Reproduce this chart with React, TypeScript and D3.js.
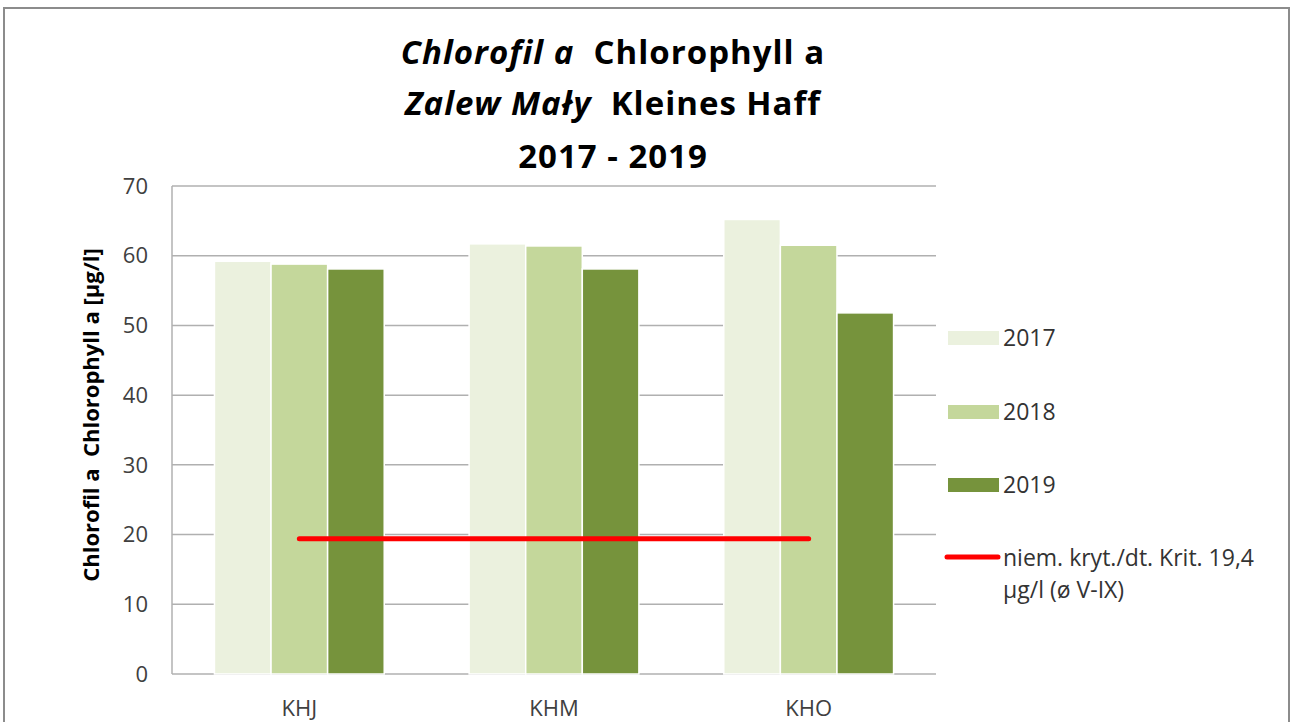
import React, { useEffect, useRef } from "react";
import * as d3 from "d3";

// data
const stations = ["KHJ", "KHM", "KHO"];
const years = ["2017", "2018", "2019"];
const values2017 = [59.2, 61.7, 65.2];
const values2018 = [58.8, 61.4, 61.5];
const values2019 = [58.1, 58.1, 51.8];
const criterion = [19.4, 19.4, 19.4];
const yTicks = [0, 10, 20, 30, 40, 50, 60, 70];
const yearColors = ["#ebf1de", "#c4d79b", "#76933c"];
const criterionLabel = ["niem. kryt./dt. Krit. 19,4", "µg/l (ø V-IX)"];

const FONT = "'Open Sans', Lato, sans-serif";

const App = () => {
  const chartRef = useRef<SVGSVGElement>(null);

  useEffect(() => {
    const svg = d3.select(chartRef.current);
    svg.selectAll("*").remove();

    const width = 1294;
    const height = 722;
    const left = 172;
    const right = 936;
    const top = 186;
    const bottom = 674;

    // outer chart frame
    svg
      .append("rect")
      .attr("x", 4)
      .attr("y", 8)
      .attr("width", 1285)
      .attr("height", height + 10)
      .attr("fill", "#fff")
      .attr("stroke", "#8c8c8c")
      .attr("stroke-width", 2);

    const x0 = d3
      .scaleBand()
      .domain(stations)
      .range([left, right])
      .paddingInner(1 / 3)
      .paddingOuter(1 / 6);

    const x1 = d3.scaleBand().domain(years).range([0, x0.bandwidth()]);

    const y = d3.scaleLinear().domain([0, 70]).range([bottom, top]);

    // gridlines
    svg
      .append("g")
      .selectAll("line")
      .data(yTicks)
      .enter()
      .append("line")
      .attr("x1", left)
      .attr("x2", right)
      .attr("y1", (d) => y(d))
      .attr("y2", (d) => y(d))
      .attr("stroke", "#b0b0b0")
      .attr("stroke-width", 1.5);

    svg
      .append("line")
      .attr("x1", left)
      .attr("x2", left)
      .attr("y1", top)
      .attr("y2", bottom)
      .attr("stroke", "#b0b0b0")
      .attr("stroke-width", 1.5);

    // tick labels
    svg
      .append("g")
      .selectAll("text")
      .data(yTicks)
      .enter()
      .append("text")
      .attr("x", 148)
      .attr("y", (d) => y(d))
      .attr("dy", "0.35em")
      .attr("text-anchor", "end")
      .attr("font-family", FONT)
      .attr("font-size", 22)
      .attr("fill", "#404040")
      .text((d) => d);

    svg
      .append("g")
      .selectAll("text")
      .data(stations)
      .enter()
      .append("text")
      .attr("x", (d) => x0(d)! + x0.bandwidth() / 2)
      .attr("y", 708)
      .attr("dy", "0.35em")
      .attr("text-anchor", "middle")
      .attr("font-family", FONT)
      .attr("font-size", 22)
      .attr("fill", "#404040")
      .text((d) => d);

    // bars
    const series = [values2017, values2018, values2019];
    const rows = stations.flatMap((s, i) =>
      years.map((yr, j) => ({ station: s, year: yr, value: series[j][i], color: yearColors[j] }))
    );

    svg
      .append("g")
      .selectAll("rect")
      .data(rows)
      .enter()
      .append("rect")
      .attr("x", (d) => x0(d.station)! + x1(d.year)!)
      .attr("y", (d) => y(d.value))
      .attr("width", x1.bandwidth())
      .attr("height", (d) => y(0) - y(d.value))
      .attr("fill", (d) => d.color)
      .attr("stroke", "#fff")
      .attr("stroke-width", 1.5);

    // criterion line
    const line = d3
      .line<number>()
      .x((_, i) => x0(stations[i])! + x0.bandwidth() / 2)
      .y((d) => y(d));

    svg
      .append("path")
      .attr("d", line(criterion))
      .attr("fill", "none")
      .attr("stroke", "#ff0000")
      .attr("stroke-width", 5)
      .attr("stroke-linecap", "round");

    // title
    const title = svg
      .append("text")
      .attr("text-anchor", "middle")
      .attr("font-family", FONT)
      .attr("font-weight", "bold")
      .attr("font-size", 33)
      .attr("letter-spacing", 1)
      .attr("fill", "#000")
      .style("white-space", "pre");

    const l1 = title.append("tspan").attr("x", 613).attr("y", 64);
    l1.append("tspan").attr("font-style", "italic").text("Chlorofil a");
    l1.append("tspan").text("  Chlorophyll a");
    const l2 = title.append("tspan").attr("x", 613).attr("y", 115);
    l2.append("tspan").attr("font-style", "italic").text("Zalew Mały");
    l2.append("tspan").text("  Kleines Haff");
    title.append("tspan").attr("x", 613).attr("y", 168).text("2017 - 2019");

    // y axis title
    svg
      .append("text")
      .attr("transform", `translate(99,415) rotate(-90)`)
      .attr("text-anchor", "middle")
      .attr("font-family", FONT)
      .attr("font-weight", "bold")
      .attr("font-size", 22)
      .attr("fill", "#000")
      .style("white-space", "pre")
      .text("Chlorofil a  Chlorophyll a [µg/l]");

    // legend
    const legendY = [338, 412, 485];
    years.forEach((yr, j) => {
      svg
        .append("rect")
        .attr("x", 948)
        .attr("y", legendY[j] - 7)
        .attr("width", 51)
        .attr("height", 14)
        .attr("fill", yearColors[j]);
      svg
        .append("text")
        .attr("x", 1003)
        .attr("y", legendY[j])
        .attr("dy", "0.35em")
        .attr("font-family", FONT)
        .attr("font-size", 23)
        .attr("fill", "#333")
        .text(yr);
    });

    svg
      .append("line")
      .attr("x1", 947)
      .attr("x2", 998)
      .attr("y1", 557)
      .attr("y2", 557)
      .attr("stroke", "#ff0000")
      .attr("stroke-width", 5)
      .attr("stroke-linecap", "round");

    svg
      .append("g")
      .selectAll("text")
      .data(criterionLabel)
      .enter()
      .append("text")
      .attr("x", 1003)
      .attr("y", (_, i) => 558 + i * 32)
      .attr("dy", "0.35em")
      .attr("font-family", FONT)
      .attr("font-size", 23)
      .attr("fill", "#333")
      .text((d) => d);

    svg.attr("width", width).attr("height", height);
  }, []);

  return (
    <svg
      ref={chartRef}
      style={{ position: "absolute", left: 0, top: 0, display: "block", background: "#fff" }}
    ></svg>
  );
};

export default App;
